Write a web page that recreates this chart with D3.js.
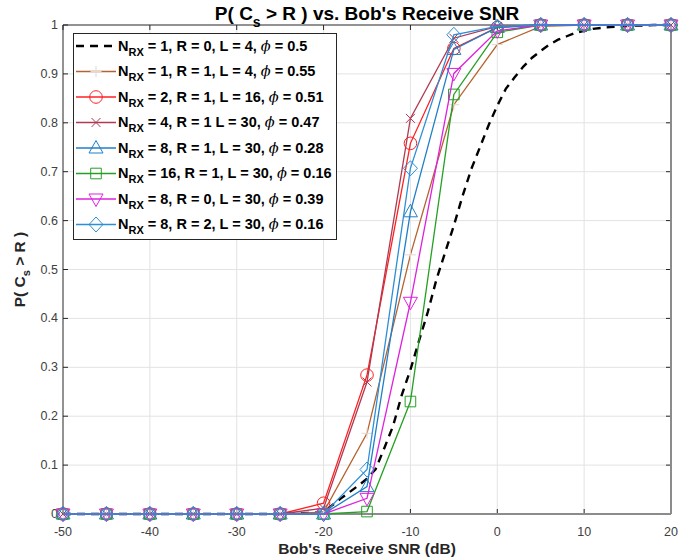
<!DOCTYPE html>
<html>
<head>
<meta charset="utf-8">
<script src="https://cdn.jsdelivr.net/npm/d3@7.9.0/dist/d3.min.js"></script>
<style>
  body { margin: 0; background: #fff; }
  svg { font-family: Arial, "Liberation Sans", Helvetica, sans-serif; }
</style>
</head>
<body>
<svg id="chart" width="697" height="560"></svg>
<script>
// x values (dB) for the marker curves
const snr = [-50, -45, -40, -35, -30, -25, -20, -15, -10, -5, 0, 5, 10, 15, 20];

// the dashed curve is sampled finer
const snrFine = [-50, -45, -40, -35, -30, -25, -20, -19, -18, -17, -16, -15, -14, -13, -12, -11,
  -10, -9, -8, -7, -6, -5, -4, -3, -2, -1, 0, 1, 2, 3, 4, 5, 6, 7, 8, 9, 10,
  11, 12, 13, 14, 15, 16, 17, 18, 19, 20];
const pN1R0 = [0, 0, 0, 0, 0, 0, 0.003, 0.018, 0.032, 0.045, 0.058, 0.072, 0.092, 0.135, 0.18, 0.243,
  0.295, 0.355, 0.413, 0.48, 0.535, 0.59, 0.65, 0.705, 0.75, 0.795, 0.835, 0.87, 0.893, 0.915, 0.933, 0.947,
  0.96, 0.97, 0.977, 0.984, 0.988, 0.992, 0.994, 0.996, 0.997, 0.998, 0.999, 0.999, 1, 1, 1];

const pN1R1 = [0, 0, 0, 0, 0, 0, 0.004, 0.165, 0.53, 0.837, 0.96, 0.997, 1, 1, 1];
const pN2R1 = [0, 0, 0, 0, 0, 0, 0.022, 0.284, 0.758, 0.952, 0.995, 1, 1, 1, 1];
const pN4R1 = [0, 0, 0, 0, 0, 0, 0.012, 0.27, 0.809, 0.973, 0.997, 1, 1, 1, 1];
const pN8R1 = [0, 0, 0, 0, 0, 0, 0, 0.056, 0.618, 0.95, 0.995, 1, 1, 1, 1];
const pN16R1 = [0, 0, 0, 0, 0, 0, 0, 0.005, 0.23, 0.858, 0.985, 1, 1, 1, 1];
const pN8R0 = [0, 0, 0, 0, 0, 0, 0, 0.032, 0.433, 0.901, 0.988, 1, 1, 1, 1];
const pN8R2 = [0, 0, 0, 0, 0, 0, 0, 0.091, 0.707, 0.98, 0.997, 1, 1, 1, 1];

const xTicks = [-50, -40, -30, -20, -10, 0, 10, 20];
const yTicks = [0, 0.1, 0.2, 0.3, 0.4, 0.5, 0.6, 0.7, 0.8, 0.9, 1];

// legend text pieces: N_RX value, rest of label, phi value
const legendN = ['1', '1', '2', '4', '8', '16', '8', '8'];
const legendRest = [', R = 0, L = 4, ', ', R = 1, L = 4, ', ', R = 1, L = 16, ', ', R = 1 L = 30, ',
  ', R = 1, L = 30, ', ', R = 1, L = 30, ', ', R = 0, L = 30, ', ', R = 2, L = 30, '];
const legendPhi = ['0.5', '0.55', '0.51', '0.47', '0.28', '0.16', '0.39', '0.16'];

const series = [
  { x: snrFine, y: pN1R0, color: '#000000', marker: null, dash: '8,6', width: 2.4 },
  { x: snr, y: pN1R1, color: '#b5622f', marker: 'plus', mcolor: '#e4d6d0', width: 1.3 },
  { x: snr, y: pN2R1, color: '#ff2020', marker: 'circle', width: 1.3 },
  { x: snr, y: pN4R1, color: '#b03a52', marker: 'x', width: 1.3 },
  { x: snr, y: pN8R1, color: '#1f7fc8', marker: 'tri-up', width: 1.3 },
  { x: snr, y: pN16R1, color: '#24a024', marker: 'square', width: 1.3 },
  { x: snr, y: pN8R0, color: '#dd22dd', marker: 'tri-down', width: 1.3 },
  { x: snr, y: pN8R2, color: '#2b8fd8', marker: 'diamond', width: 1.3 }
];

const margin = { left: 63, right: 26, top: 25, bottom: 46 };
const W = 697, H = 560;

const svg = d3.select('#chart');

const x = d3.scaleLinear().domain([-50, 20]).range([margin.left, W - margin.right]);
const y = d3.scaleLinear().domain([0, 1]).range([H - margin.bottom, margin.top]);

// marker path generator
function markerPath(type) {
  switch (type) {
    case 'circle': return d3.symbol(d3.symbolCircle, Math.PI * 6.3 * 6.3)();
    case 'square': return 'M-5.3,-5.3H5.3V5.3H-5.3Z';
    case 'tri-up': return 'M0,-7.5L7,5L-7,5Z';
    case 'tri-down': return 'M0,7.5L7,-5L-7,-5Z';
    case 'diamond': return 'M0,-7.5L7,0L0,7.5L-7,0Z';
    case 'x': return 'M-4.5,-4.5L4.5,4.5M-4.5,4.5L4.5,-4.5';
    case 'plus': return 'M-5.5,0H5.5M0,-5.5V5.5';
  }
  return '';
}

// grid
const grid = svg.append('g');
grid.selectAll('line.gx').data(xTicks.slice(1, -1)).join('line')
  .attr('x1', d => x(d)).attr('x2', d => x(d))
  .attr('y1', y(0)).attr('y2', y(1))
  .attr('stroke', '#e3e3e3').attr('stroke-width', 1);
grid.selectAll('line.gy').data(yTicks.slice(1, -1)).join('line')
  .attr('y1', d => y(d)).attr('y2', d => y(d))
  .attr('x1', x(-50)).attr('x2', x(20))
  .attr('stroke', '#e3e3e3').attr('stroke-width', 1);

// ticks (inward, both sides)
const ticks = svg.append('g').attr('stroke', '#262626').attr('stroke-width', 1);
xTicks.forEach(t => {
  ticks.append('line').attr('x1', x(t)).attr('x2', x(t)).attr('y1', y(0)).attr('y2', y(0) - 5);
  ticks.append('line').attr('x1', x(t)).attr('x2', x(t)).attr('y1', y(1)).attr('y2', y(1) + 5);
});
yTicks.forEach(t => {
  ticks.append('line').attr('y1', y(t)).attr('y2', y(t)).attr('x1', x(-50)).attr('x2', x(-50) + 5);
  ticks.append('line').attr('y1', y(t)).attr('y2', y(t)).attr('x1', x(20)).attr('x2', x(20) - 5);
});

// axis box
svg.append('line').attr('x1', x(-50)).attr('x2', x(20)).attr('y1', y(0)).attr('y2', y(0))
  .attr('stroke', '#8c8c8c').attr('stroke-width', 2);
svg.append('line').attr('x1', x(20)).attr('x2', x(20)).attr('y1', y(0)).attr('y2', y(1))
  .attr('stroke', '#8c8c8c').attr('stroke-width', 2);
svg.append('line').attr('x1', x(-50)).attr('x2', x(20)).attr('y1', y(1)).attr('y2', y(1))
  .attr('stroke', '#262626').attr('stroke-width', 1);
svg.append('line').attr('x1', x(-50)).attr('x2', x(-50)).attr('y1', y(0)).attr('y2', y(1))
  .attr('stroke', '#262626').attr('stroke-width', 1);

// tick labels
svg.append('g').selectAll('text').data(xTicks).join('text')
  .attr('x', d => x(d)).attr('y', y(0) + 22)
  .attr('text-anchor', 'middle').attr('font-size', 12.5).attr('fill', '#404040')
  .text(d => d);
svg.append('g').selectAll('text').data(yTicks).join('text')
  .attr('x', x(-50) - 5).attr('y', d => y(d) + 4)
  .attr('text-anchor', 'end').attr('font-size', 12.5).attr('fill', '#404040')
  .text(d => d);

// curves
const line = d3.line().x(d => x(d[0])).y(d => y(d[1]));
series.forEach(s => {
  const pts = s.x.map((v, i) => [v, s.y[i]]);
  const g = svg.append('g');
  g.append('path').datum(pts).attr('d', line)
    .attr('fill', 'none').attr('stroke', s.color).attr('stroke-width', s.width)
    .attr('stroke-dasharray', s.dash || null);
  if (s.marker) {
    g.selectAll('path.m').data(pts).join('path').attr('class', 'm')
      .attr('transform', d => `translate(${x(d[0])},${y(d[1])})`)
      .attr('d', markerPath(s.marker))
      .attr('fill', 'none').attr('stroke', s.mcolor || s.color).attr('stroke-width', 1);
  }
});

// legend
const lg = svg.append('g');
lg.append('rect').attr('x', 73.5).attr('y', 33.5).attr('width', 263).attr('height', 206)
  .attr('fill', '#fff').attr('stroke', '#262626').attr('stroke-width', 1);
series.forEach((s, i) => {
  const cy = 46 + i * 25.5;
  lg.append('line').attr('x1', 76).attr('x2', 116).attr('y1', cy).attr('y2', cy)
    .attr('stroke', s.color).attr('stroke-width', s.width)
    .attr('stroke-dasharray', s.dash ? '8,6' : null);
  if (s.marker) {
    lg.append('path').attr('transform', `translate(96,${cy})`).attr('d', markerPath(s.marker))
      .attr('fill', 'none').attr('stroke', s.mcolor || s.color).attr('stroke-width', 1);
  }
  const t = lg.append('text').attr('x', 118).attr('y', cy + 4.5)
    .attr('font-size', 14.5).attr('font-weight', 'bold').attr('fill', '#000');
  t.append('tspan').text('N');
  t.append('tspan').attr('font-size', 11).attr('dy', 5).text('RX');
  t.append('tspan').attr('dy', -5).text(' = ' + legendN[i] + legendRest[i]);
  t.append('tspan').attr('font-style', 'italic').attr('font-family', 'DejaVu Serif, serif').attr('font-weight', 'normal').text('ϕ');
  t.append('tspan').text(' = ' + legendPhi[i]);
});

// title
const title = svg.append('text').attr('x', (x(-50) + x(20)) / 2).attr('y', 20)
  .attr('text-anchor', 'middle').attr('font-size', 19).attr('font-weight', 'bold').attr('fill', '#000');
title.append('tspan').text('P( C');
title.append('tspan').attr('dy', 7).attr('font-size', 14).text('s');
title.append('tspan').attr('dy', -7).text(' > R ) vs. Bob\'s Receive SNR');

// x label
svg.append('text').attr('x', (x(-50) + x(20)) / 2).attr('y', 554)
  .attr('text-anchor', 'middle').attr('font-size', 15.5).attr('font-weight', 'bold').attr('fill', '#262626')
  .text('Bob\'s Receive SNR (dB)');

// y label
const yl = svg.append('text').attr('transform', `translate(25,${(y(0) + y(1)) / 2}) rotate(-90)`)
  .attr('text-anchor', 'middle').attr('font-size', 15.5).attr('font-weight', 'bold').attr('fill', '#262626');
yl.append('tspan').text('P( C');
yl.append('tspan').attr('dy', 5).attr('font-size', 11).text('s');
yl.append('tspan').attr('dy', -5).text(' > R )');
</script>
</body>
</html>
